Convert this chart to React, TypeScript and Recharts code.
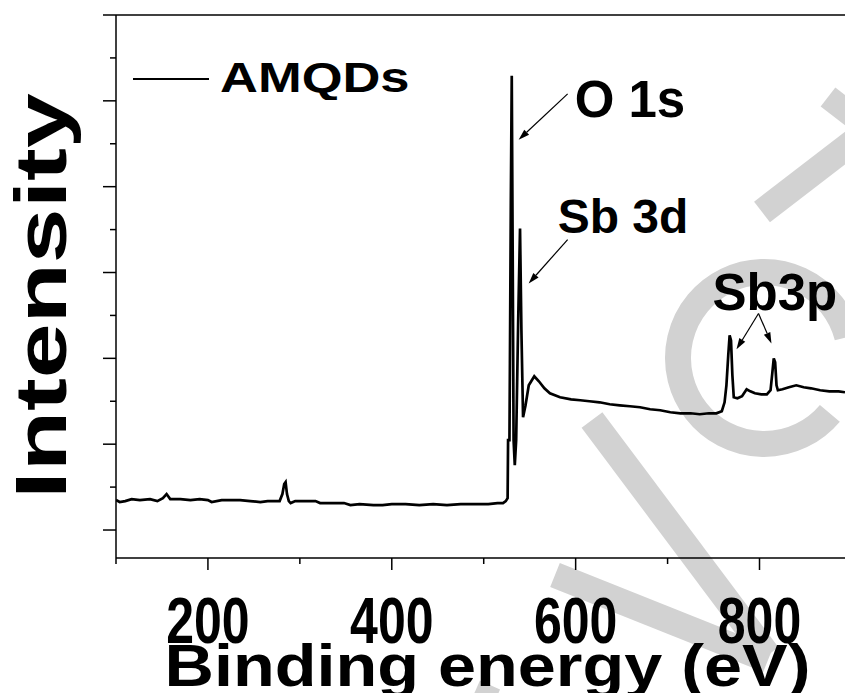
import React from 'react';
import { LineChart, Line, XAxis, YAxis, ReferenceLine, ReferenceDot, Legend } from 'recharts';

const FONT = '"Liberation Sans", Arial, Helvetica, sans-serif';

// XPS survey spectrum of the AMQDs sample (binding energy in eV, intensity in a.u.)
const energy = [
  100, 104, 110, 117, 126, 137, 145, 151, 155, 159, 170, 181, 191, 200, 204, 215, 226, 235, 246, 257,
  265, 272, 278, 281, 283, 284.5, 286, 288, 290, 295, 305, 317, 322, 335, 348, 355, 365, 380, 390, 400,
  415, 430, 445, 460, 475, 490, 505, 515, 521, 524, 526, 526.5, 528, 528.5, 529.5, 530.5, 531.5, 532.5,
  533.8, 535.3, 537.5, 539.5, 541, 542.8, 545.5, 549, 555, 560, 566, 572, 583, 595, 605, 615, 626, 637,
  648, 659, 670, 681, 692, 703, 714, 725, 735, 745, 753, 759, 762, 764, 766, 767.5, 769, 770.5, 772, 776,
  781, 786, 790, 795, 802, 808, 812, 814, 815.5, 817, 818.5, 820, 825, 832, 840, 848, 856, 866, 876, 886, 893,
];
const intensity = [
  0.349, 0.326, 0.337, 0.36, 0.349, 0.36, 0.337, 0.372, 0.419, 0.36, 0.36, 0.349, 0.36, 0.349, 0.326, 0.349, 0.349, 0.349, 0.337, 0.326,
  0.337, 0.337, 0.337, 0.419, 0.535, 0.558, 0.419, 0.337, 0.314, 0.337, 0.337, 0.337, 0.314, 0.314, 0.314, 0.291, 0.302, 0.291, 0.291, 0.302,
  0.302, 0.291, 0.302, 0.291, 0.302, 0.302, 0.302, 0.314, 0.314, 0.337, 0.372, 1.047, 1.047, 1.942, 3.837, 5.291, 3.256, 1.047,
  0.756, 1.047, 2.442, 3.512, 2.326, 1.314, 1.453, 1.686, 1.791, 1.733, 1.651, 1.593, 1.547, 1.523, 1.512, 1.5, 1.488, 1.465,
  1.453, 1.442, 1.43, 1.407, 1.395, 1.372, 1.36, 1.36, 1.349, 1.36, 1.36, 1.384, 1.488, 1.686, 2.035, 2.267, 2.209, 1.802, 1.547, 1.535,
  1.558, 1.64, 1.616, 1.593, 1.581, 1.581, 1.628, 1.837, 2.0, 1.953, 1.686, 1.628, 1.64, 1.663, 1.686, 1.663, 1.651, 1.628, 1.616, 1.616, 1.605,
];

const xTicks = [100, 200, 300, 400, 500, 600, 700, 800];
const xLabelled = [200, 400, 600, 800];
const yTicks = [0, 0.5, 1, 1.5, 2, 2.5, 3, 3.5, 4, 4.5, 5, 5.5, 6];

// peak assignments: text anchor (left, baseline) in data units
const peakLabels = [
  { text: 'O 1s', e: 598.9, v: 4.806, size: 51 },
  { text: 'Sb 3d', e: 580.4, v: 3.465, size: 48 },
  { text: 'Sb3p', e: 748.9, v: 2.558, size: 51 },
];
// arrows from label to peak
const arrows = [
  { e1: 591.3, v1: 5.081, e2: 538.0, v2: 4.547 },
  { e1: 591.3, v1: 3.384, e2: 548.9, v2: 2.872 },
  { e1: 798.9, v1: 2.523, e2: 775.0, v2: 2.105 },
  { e1: 798.9, v1: 2.523, e2: 813.0, v2: 2.174 },
];

const data = energy.map((e, i) => ({ energy: e, intensity: intensity[i] }));

const XTick = (props: any) => {
  const { x, y, payload } = props;
  const major = xLabelled.includes(payload.value);
  return (
    <g>
      <line x1={x} y1={y} x2={x} y2={y + (major ? 12 : 6)} stroke="#000" strokeWidth={1.5} />
      {major && (
        <g transform={`translate(${x},${y + 85}) scale(1,1.3)`}>
          <text textAnchor="middle" fontFamily={FONT} fontWeight={700} fontSize={50} fill="#000">
            {payload.value}
          </text>
        </g>
      )}
    </g>
  );
};

const YTick = (props: any) => {
  const { x, y, payload } = props;
  const major = Number.isInteger(payload.value);
  return <line x1={x - (major ? 13 : 6)} y1={y} x2={x} y2={y} stroke="#000" strokeWidth={1.5} />;
};

const XTitle = (props: any) => {
  const vb = props.viewBox;
  const cx = vb.x + vb.width / 2 + 7;
  return (
    <g transform={`translate(${cx},${vb.y + 128}) scale(1.14,1)`}>
      <text textAnchor="middle" fontFamily={FONT} fontWeight={700} fontSize={60} fill="#000">
        Binding energy (eV)
      </text>
    </g>
  );
};

const YTitle = (props: any) => {
  const vb = props.viewBox;
  const cy = vb.y + 281;
  return (
    <g transform={`translate(66,${cy}) rotate(-90) scale(1.37,1)`}>
      <text textAnchor="middle" fontFamily={FONT} fontWeight={700} fontSize={72} fill="#000">
        Intensity
      </text>
    </g>
  );
};

const Arrow = (props: any) => {
  const { x1, y1, x2, y2 } = props;
  const dx = x2 - x1;
  const dy = y2 - y1;
  const len = Math.sqrt(dx * dx + dy * dy);
  const ux = dx / len;
  const uy = dy / len;
  const hl = 11;
  const hw = 3.5;
  const bx = x2 - ux * hl;
  const by = y2 - uy * hl;
  const pts = `${x2},${y2} ${bx - uy * hw},${by + ux * hw} ${bx + uy * hw},${by - ux * hw}`;
  return (
    <g>
      <line x1={x1} y1={y1} x2={bx} y2={by} stroke="#000" strokeWidth={1.2} />
      <polygon points={pts} fill="#000" />
    </g>
  );
};

const LegendBox = (props: any) => {
  const item = props.payload && props.payload[0];
  return (
    <svg width={300} height={50} style={{ display: 'block' }}>
      <line x1={8} y1={29} x2={84} y2={29} stroke="#000" strokeWidth={2.2} />
      <g transform="translate(95,42) scale(1.25,1)">
        <text fontFamily={FONT} fontWeight={700} fontSize={42} fill="#000">
          {item ? item.value : 'AMQDs'}
        </text>
      </g>
    </svg>
  );
};

// light grey logo strokes behind the plot
const GREY = '#d2d2d2';
const band = (x1: number, y1: number, x2: number, y2: number, w: number) => (
  <line x1={x1} y1={y1} x2={x2} y2={y2} stroke={GREY} strokeWidth={w} />
);
const Backdrop = () => {
  const cx = 764;
  const cy = 358;
  const r = 86;
  const a1 = (-14 * Math.PI) / 180;
  const a2 = (40 * Math.PI) / 180;
  const p1 = [cx + r * Math.cos(a1), cy + r * Math.sin(a1)];
  const p2 = [cx + r * Math.cos(a2), cy + r * Math.sin(a2)];
  return (
    <svg width={845} height={693} style={{ position: 'absolute', left: 0, top: 0 }}>
      <path d={`M${p1[0]},${p1[1]} A${r},${r} 0 1 0 ${p2[0]},${p2[1]}`} fill="none" stroke={GREY} strokeWidth={26} />
      {band(592, 420, 768, 655, 26)}
      {band(555, 575, 768, 660, 26)}
      {band(762, 212, 875, 125, 26)}
      {band(828, 97, 890, 145, 24)}
      {band(490, 685, 470, 730, 22)}
    </svg>
  );
};

export default function App() {
  return (
    <div style={{ position: 'absolute', left: 0, top: 0, width: 845, height: 693, background: '#fff', overflow: 'hidden' }}>
      <Backdrop />
      <div style={{ position: 'absolute', left: 0, top: 0 }}>
        <LineChart width={845} height={693} data={data} margin={{ top: 15, right: 0, bottom: 0, left: 100 }}>
          <XAxis
            dataKey="energy"
            type="number"
            domain={[100, 893]}
            ticks={xTicks}
            interval={0}
            allowDataOverflow
            height={135}
            tickSize={0}
            tickMargin={0}
            tickLine={false}
            tick={<XTick />}
            axisLine={{ stroke: '#000', strokeWidth: 1.5 }}
            label={XTitle}
          />
          <YAxis
            type="number"
            domain={[-0.326, 6]}
            ticks={yTicks}
            interval={0}
            allowDataOverflow
            width={16}
            tickSize={0}
            tickMargin={0}
            tickLine={false}
            tick={<YTick />}
            axisLine={{ stroke: '#000', strokeWidth: 1.5 }}
            label={YTitle}
          />
          <ReferenceLine y={6} stroke="#000" strokeWidth={1.5} />
          {arrows.map((a, i) => (
            <ReferenceLine
              key={`arrow-${i}`}
              segment={[
                { x: a.e1, y: a.v1 },
                { x: a.e2, y: a.v2 },
              ]}
              shape={Arrow}
            />
          ))}
          {peakLabels.map((p) => (
            <ReferenceDot
              key={p.text}
              x={p.e}
              y={p.v}
              r={0}
              shape={(s: any) => (
                <text x={s.cx} y={s.cy} fontFamily={FONT} fontWeight={700} fontSize={p.size} fill="#000">
                  {p.text}
                </text>
              )}
            />
          ))}
          <Legend
            layout="vertical"
            align="center"
            verticalAlign="middle"
            content={<LegendBox />}
            wrapperStyle={{ left: 125, top: 50, width: 300, height: 50 }}
          />
          <Line
            type="linear"
            dataKey="intensity"
            name="AMQDs"
            stroke="#000"
            strokeWidth={2.7}
            dot={false}
            isAnimationActive={false}
          />
        </LineChart>
      </div>
    </div>
  );
}
